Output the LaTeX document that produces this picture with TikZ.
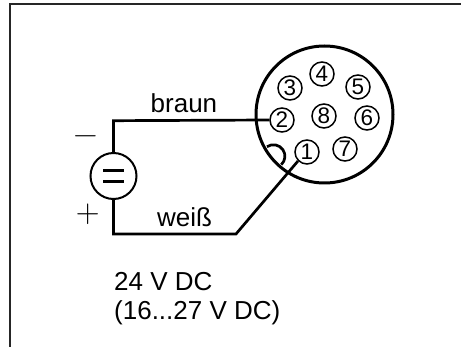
\documentclass[tikz,border=0pt]{standalone}
\usepackage{fontspec}
\setmainfont{Liberation Sans}
\newfontfamily\lmfont{Latin Modern Roman}
\tikzset{
  px/.style={x=1pt,y=-1pt},
  pin/.style={circle,draw=black,line width=1.5pt,minimum size=24pt,inner sep=0pt,font=\fontsize{22.5}{22.5}\selectfont},
  wire/.style={line width=2.7pt,draw=black},
  lab/.style={anchor=base west,inner sep=0pt,font=\fontsize{26}{26}\selectfont},
  sign/.style={inner sep=0pt,font=\lmfont\fontsize{33}{33}\selectfont},
  frameline/.style={line width=2pt,draw=black!85}
}
\begin{document}
\begin{tikzpicture}[px]
\useasboundingbox (0,0) rectangle (461,347);
\fill[white] (0,0) rectangle (461,347);
\coordinate (fa) at (10,347);
\coordinate (fb) at (10,4.5);
\coordinate (fc) at (461,4.5);
\draw[frameline,line join=miter] (fa) -- (fb) -- (fc);
% connector body
\node[circle,draw=black,line width=3pt,minimum size=137pt,inner sep=0pt] (body) at (324.5,114.5) {};
\draw[wire] (267,146.7) arc[start angle=-124,end angle=47,radius=11.5];
% wires
\node[circle,draw=black,line width=2pt,minimum size=46pt,inner sep=0pt] (src) at (113.5,176) {};
\node[pin] (p1) at (307,152) {1};
\node[pin] (p2) at (282,120) {2};
\node[pin] (p3) at (290,88) {3};
\node[pin] (p4) at (322,74) {4};
\node[pin] (p5) at (358,87) {5};
\node[pin] (p6) at (367,118) {6};
\node[pin] (p7) at (345,149) {7};
\node[pin] (p8) at (324,116) {8};
\coordinate (eqa) at (103,170.7);
\coordinate (eqb) at (124,170.7);
\coordinate (eqc) at (103,181.7);
\coordinate (eqd) at (124,181.7);
\draw[line width=2.6pt] (eqa) -- (eqb);
\draw[line width=2.6pt] (eqc) -- (eqd);
\coordinate (ct) at (113.5,120.7);
\coordinate (cb) at (113.5,234);
\coordinate (cd) at (236,234);
\draw[wire,line join=miter] (src.north) -- (ct) -- (p2.west);
\draw[wire,line join=miter] (src.south) -- (cb) -- (cd) -- (p1.south west);
% labels
\node[lab] (braun) at (150.5,112.7) {braun};
\node[lab] (weiss) at (157,226.7) {weiß};
\node[lab] (v1) at (114,290.7) {24 V DC};
\node[lab] (v2) at (114,320) {(16...27 V DC)};
\node[sign] (minus) at (85.5,140) {−};
\node[sign] (plus) at (87.7,214) {+};
\end{tikzpicture}
\end{document}
